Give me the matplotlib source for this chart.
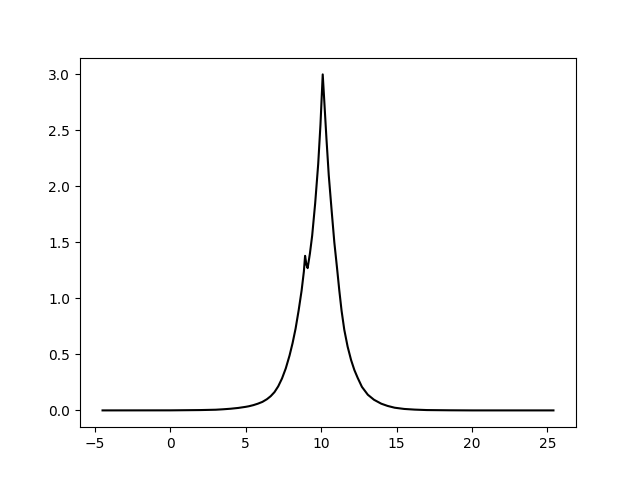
import matplotlib
matplotlib.use("Agg")
import matplotlib.pyplot as plt

# values
x_vals = [-4.5, 0.0, 2.0, 3.0, 3.5, 4.0, 4.5, 5.0, 5.2, 5.5, 5.8, 6.1, 6.4,
          6.65, 6.9, 7.15, 7.4, 7.65, 7.9, 8.1, 8.3, 8.5, 8.7, 8.85, 8.93,
          9.02, 9.1, 9.25, 9.4, 9.6, 9.8, 9.95, 10.1, 10.2, 10.35, 10.5,
          10.7, 10.87, 11.05, 11.2, 11.35, 11.53, 11.75, 11.98, 12.2, 12.42,
          12.7, 13.09, 13.5, 13.98, 14.4, 14.87, 15.5, 16.2, 17.0, 18.5,
          20.0, 25.4]
y_vals = [0.0, 0.0005, 0.003, 0.006, 0.01, 0.015, 0.022, 0.032, 0.037,
          0.047, 0.06, 0.076, 0.1, 0.127, 0.163, 0.215, 0.285, 0.375, 0.49,
          0.6, 0.73, 0.89, 1.07, 1.24, 1.38, 1.3, 1.27, 1.4, 1.56, 1.85,
          2.2, 2.55, 3.0, 2.77, 2.42, 2.1, 1.77, 1.5, 1.27, 1.07, 0.89, 0.72,
          0.57, 0.45, 0.36, 0.29, 0.21, 0.14, 0.095, 0.06, 0.04, 0.024,
          0.013, 0.007, 0.003, 0.001, 0.0, 0.0]

fig, ax = plt.subplots(figsize=(6.4, 4.8), dpi=100)
ax.plot(x_vals, y_vals, color='black')
fig.savefig('out.png')
